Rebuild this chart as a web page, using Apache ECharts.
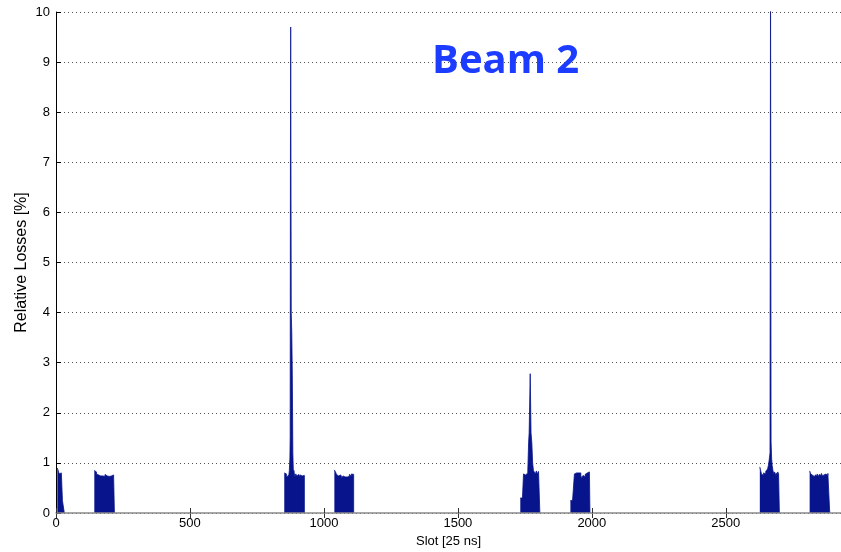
<!DOCTYPE html>
<html>
<head>
<meta charset="utf-8">
<title>Beam 2 relative losses per slot</title>
<script src="https://cdn.jsdelivr.net/npm/echarts@6/dist/echarts.min.js"></script>
<style>
  html, body { margin: 0; padding: 0; background: #ffffff; }
  #chart { width: 841px; height: 552px; }
</style>
</head>
<body>
<div id="chart"></div>
<script>
// Relative losses [%] per bunch slot, one array per bunch train.
// Each entry is [slot, loss]; a loss holds until the next slot listed,
// and the final [slot, 0] closes the train.
const train1 = [[5,0.9],[8,0.88],[12,0.78],[16,0.8],[20,0.77],[24,0.25],[31,0]];
const train2 = [[143,0.85],[147,0.82],[151,0.78],[155,0.76],[159,0.79],[163,0.74],[167,0.77],[171,0.74],[175,0.76],[179,0.73],[183,0.77],[187,0.74],[191,0.76],[195,0.73],[199,0.76],[203,0.74],[207,0.77],[211,0.76],[215,0.78],[218,0]];
const train3 = [[852,0.8],[856,0.78],[860,0.72],[864,0.75],[868,0.7],[871,0.85],[873,1.1],[874,1.5],[875,6.95],[876,9.7],[877,6.95],[878,4.0],[880,3.6],[882,2.75],[884,1.2],[886,0.8],[888,0.85],[891,0.72],[895,0.78],[899,0.74],[903,0.77],[907,0.72],[911,0.76],[915,0.74],[919,0.77],[923,0.75],[927,0]];
const train4 = [[1039,0.86],[1043,0.82],[1047,0.77],[1051,0.74],[1055,0.72],[1059,0.76],[1063,0.73],[1067,0.7],[1071,0.74],[1075,0.72],[1079,0.75],[1083,0.72],[1087,0.75],[1091,0.73],[1095,0.77],[1099,0.74],[1103,0.78],[1107,0.77],[1111,0]];
const train5 = [[1733,0.3],[1737,0.3],[1741,0.3],[1745,0.78],[1749,0.76],[1753,0.79],[1757,0.8],[1761,0.85],[1764,1.4],[1766,1.6],[1770,2.78],[1772,2.78],[1773,1.6],[1776,1.4],[1779,1.0],[1782,0.85],[1785,0.82],[1789,0.78],[1793,0.84],[1797,0.78],[1801,0.83],[1806,0]];
const train6 = [[1920,0.25],[1924,0.25],[1928,0.24],[1932,0.25],[1935,0.78],[1939,0.8],[1943,0.77],[1947,0.8],[1951,0.78],[1955,0.8],[1959,0.74],[1963,0.7],[1967,0.75],[1971,0.72],[1975,0.77],[1979,0.8],[1983,0.78],[1987,0.82],[1991,0.8],[1993,0]];
const train7 = [[2627,0.92],[2630,0.85],[2633,0.78],[2637,0.75],[2641,0.8],[2645,0.78],[2649,0.83],[2653,0.8],[2656,0.88],[2659,0.95],[2662,1.06],[2665,1.2],[2667,10.8],[2669,1.42],[2671,1.1],[2673,0.95],[2676,0.85],[2679,0.78],[2682,0.82],[2685,0.75],[2688,0.8],[2691,0.76],[2694,0.82],[2697,0.78],[2700,0]];
const train8 = [[2813,0.84],[2817,0.78],[2821,0.75],[2825,0.77],[2829,0.72],[2833,0.76],[2837,0.74],[2841,0.78],[2845,0.73],[2849,0.77],[2853,0.75],[2857,0.79],[2861,0.74],[2865,0.77],[2869,0.73],[2873,0.78],[2877,0.75],[2881,0.79],[2885,0.77],[2888,0]];

const trains = [train1, train2, train3, train4, train5, train6, train7, train8];

const xTicks = [0, 500, 1000, 1500, 2000, 2500];
const yTicks = [0, 1, 2, 3, 4, 5, 6, 7, 8, 9, 10];

const barColor = '#07148c';
const font = '"Liberation Sans", Arial, Helvetica, sans-serif';

const chart = echarts.init(document.getElementById('chart'), null, { renderer: 'canvas' });

const series = trains.map(t => ({
  type: 'line',
  data: t,
  step: 'end',
  symbol: 'none',
  silent: true,
  clip: true,
  lineStyle: { color: barColor, width: 0.8 },
  areaStyle: { color: barColor, opacity: 1, origin: 'start' },
  z: 2
}));

chart.setOption({
  animation: false,
  backgroundColor: '#ffffff',
  grid: { left: 56, right: 0, top: 12, bottom: 39, containLabel: false, outerBoundsMode: 'none' },
  xAxis: [{
    type: 'value',
    min: 0,
    max: 2930,
    interval: 500,
    name: 'Slot [25 ns]',
    nameLocation: 'middle',
    nameGap: 22,
    nameMoveOverlap: false,
    nameTextStyle: { color: '#000', fontSize: 13, fontFamily: font },
    axisLine: { show: true, onZero: false, lineStyle: { color: '#8a8a8a', width: 1.5 } },
    axisTick: { show: true, inside: true, length: 5, lineStyle: { color: '#333' } },
    axisLabel: {
      color: '#000', fontSize: 13, fontFamily: font, margin: 4,
      customValues: xTicks,
      formatter: v => String(v)
    },
    splitLine: { show: false },
    z: 3
  }, {
    type: 'value',
    position: 'top',
    min: 0,
    max: 2930,
    interval: 500,
    axisLine: { show: false },
    axisTick: { show: true, inside: true, length: 5, lineStyle: { color: '#333' } },
    axisLabel: { show: false },
    splitLine: { show: false }
  }],
  yAxis: {
    type: 'value',
    min: 0,
    max: 10,
    interval: 1,
    name: 'Relative Losses [%]',
    nameLocation: 'middle',
    nameGap: 26,
    nameRotate: 90,
    nameMoveOverlap: false,
    nameTextStyle: { color: '#000', fontSize: 16, fontFamily: font },
    axisLine: { show: true, lineStyle: { color: '#000', width: 1 } },
    axisTick: { show: true, inside: true, length: 5, lineStyle: { color: '#000' } },
    axisLabel: {
      color: '#000', fontSize: 13, fontFamily: font, margin: 6,
      customValues: yTicks,
      formatter: v => String(v)
    },
    splitLine: { show: true, lineStyle: { color: '#555', type: [1, 3], width: 1 } }
  },
  graphic: [{
    type: 'text',
    left: 432,
    top: 42,
    style: {
      text: 'Beam 2',
      fill: '#1c3cff',
      font: 'bold 40px "Open Sans", "Noto Sans", sans-serif'
    },
    z: 10
  }],
  series: series
});
</script>
</body>
</html>
